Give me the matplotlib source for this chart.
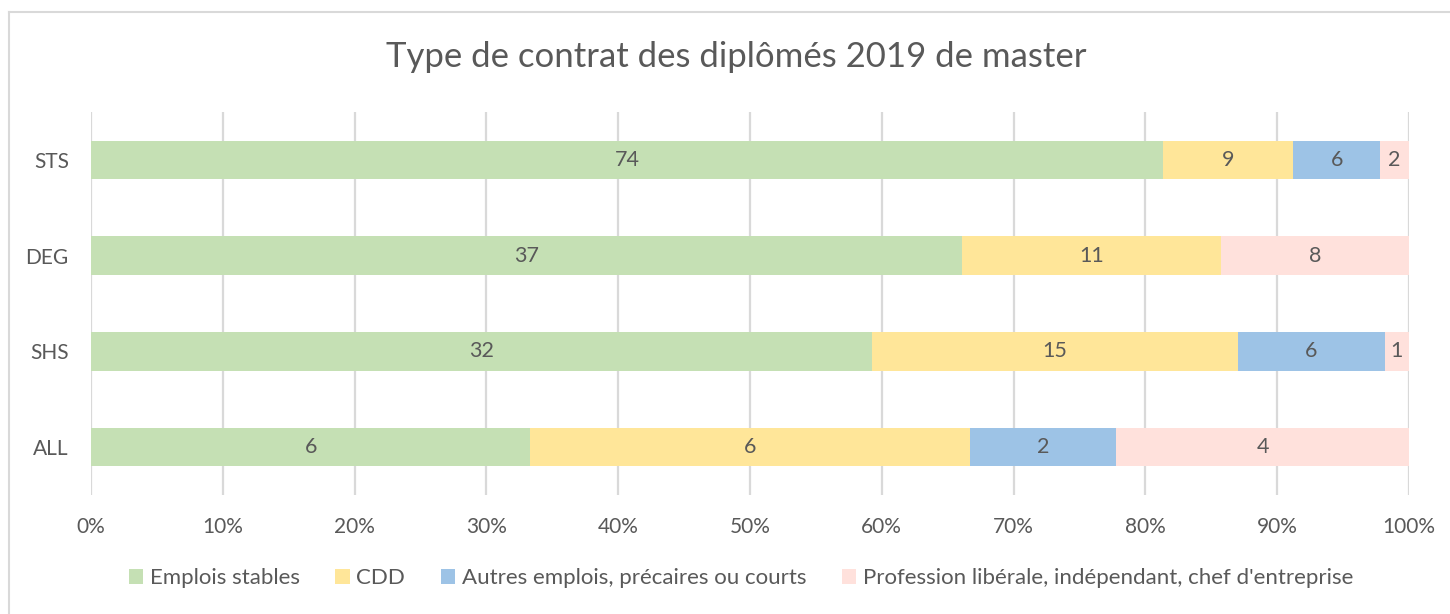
import matplotlib
matplotlib.use('Agg')
import matplotlib.pyplot as plt
from matplotlib.lines import Line2D
from matplotlib.patches import Patch
from matplotlib.ticker import PercentFormatter
import numpy as np

categories = ["ALL", "SHS", "DEG", "STS"]
series_names = [
    "Emplois stables",
    "CDD",
    "Autres emplois, précaires ou courts",
    "Profession libérale, indépendant, chef d'entreprise",
]
stables = [6, 32, 37, 74]
cdd = [6, 15, 11, 9]
autres = [2, 6, 0, 6]
liberal = [4, 1, 8, 2]

COLORS = ["#C5E0B4", "#FFE699", "#9DC3E6", "#FFE1DC"]
TEXT = "#595959"
GRID = "#D9D9D9"

plt.rcParams['font.family'] = ['Lato', 'DejaVu Sans']

series = np.array([stables, cdd, autres, liberal], dtype=float)
totals = series.sum(axis=0)
shares = series / totals * 100

fig = plt.figure(figsize=(14.5, 6.14), dpi=100)
ax = fig.add_axes([91 / 1450, 1 - 495 / 614, 1318 / 1450, 383 / 614])

y = np.arange(len(categories))
left = np.zeros(len(categories))
for i, name in enumerate(series_names):
    ax.barh(y, shares[i], left=left, height=0.4, color=COLORS[i],
            label=name, zorder=2)
    for j in range(len(categories)):
        if series[i, j] > 0:
            ax.text(left[j] + shares[i, j] / 2, y[j], "%d" % series[i, j],
                    ha='center', va='center', color=TEXT, fontsize=15.5,
                    zorder=3)
    left += shares[i]

ax.set_xlim(0, 100)
ax.set_ylim(-0.5, 3.5)
ax.set_xticks(np.arange(0, 101, 10))
ax.xaxis.set_major_formatter(PercentFormatter(decimals=0))
ax.set_yticks(y)
ax.set_yticklabels(categories)
ax.tick_params(axis='both', length=0, labelsize=15, labelcolor=TEXT)
ax.tick_params(axis='x', pad=16)
ax.tick_params(axis='y', pad=16)
ax.grid(axis='x', color=GRID, linewidth=1.6, zorder=0)
for s in ax.spines.values():
    s.set_visible(False)

fig.suptitle("Type de contrat des diplômés 2019 de master",
             x=736 / 1450, y=1 - 57 / 614,
             va='center', fontsize=25, color=TEXT)

handles = [Patch(facecolor=c, edgecolor='none') for c in COLORS]
fig.legend(handles, series_names, loc='center', ncol=4,
           bbox_to_anchor=(741 / 1450, 1 - 578 / 614), frameon=False,
           fontsize=16, labelcolor=TEXT, handlelength=0.65,
           handleheight=0.65, handletextpad=0.3, columnspacing=1.6)

# chart frame (only top and left edges visible in the crop)
fig.add_artist(Line2D([9 / 1450, 9 / 1450], [0, 1 - 12 / 614],
                      transform=fig.transFigure, color=GRID, lw=1.5))
fig.add_artist(Line2D([9 / 1450, 1], [1 - 12 / 614, 1 - 12 / 614],
                      transform=fig.transFigure, color=GRID, lw=1.5))

fig.savefig("out.png", dpi=100, facecolor='white')
